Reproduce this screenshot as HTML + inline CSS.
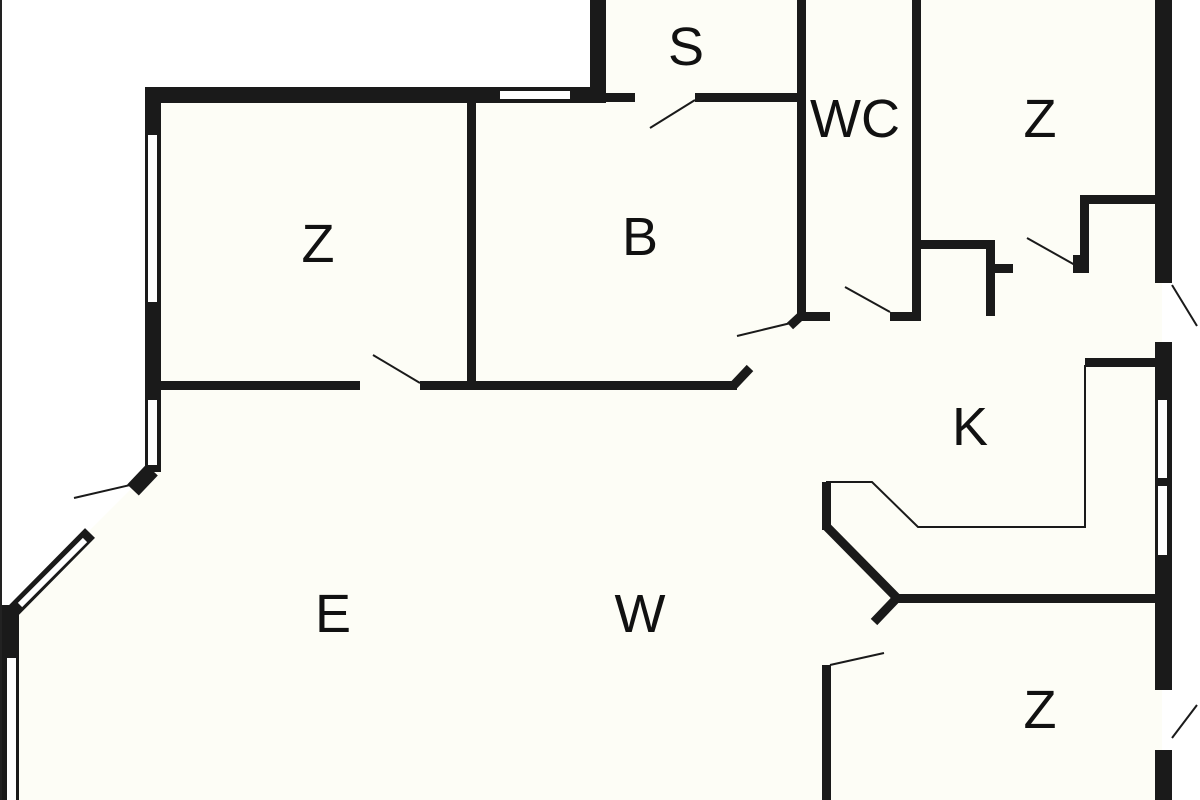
<!DOCTYPE html><html><head><style>body{margin:0;background:#fff}svg{display:block}text{font-family:"Liberation Sans",sans-serif;font-size:54px;fill:#111;text-anchor:middle}</style></head><body>
<svg width="1200" height="800" viewBox="0 0 1200 800">
<rect width="1200" height="800" fill="#fff"/>
<line x1="1" y1="0" x2="1" y2="800" stroke="#222" stroke-width="2"/>
<polygon points="152,95 598,95 598,0 1162,0 1162,800 10,800 10,610 140,480 152,470" fill="#fdfdf6"/>
<g fill="#1a1a1a">
<rect x="145" y="87" width="461" height="16"/>
<rect x="590" y="0" width="16" height="103"/>
<rect x="145" y="87" width="16" height="385"/>
<rect x="2" y="605" width="17" height="195"/>
<rect x="598" y="93" width="37" height="9"/>
<rect x="695" y="93" width="110" height="9"/>
<rect x="797" y="0" width="9" height="320"/>
<rect x="912" y="0" width="9" height="320"/>
<rect x="797" y="312" width="33" height="9"/>
<rect x="890" y="312" width="31" height="9"/>
<rect x="912" y="240" width="82" height="9"/>
<rect x="986" y="240" width="9" height="76"/>
<rect x="986" y="264" width="27" height="9"/>
<rect x="1073" y="255" width="15" height="18"/>
<rect x="1080" y="195" width="9" height="78"/>
<rect x="1080" y="195" width="80" height="9"/>
<rect x="1155" y="0" width="17" height="283"/>
<rect x="1155" y="342" width="17" height="348"/>
<rect x="1155" y="750" width="17" height="50"/>
<rect x="1085" y="358" width="77" height="9"/>
<rect x="160" y="381" width="200" height="9"/>
<rect x="420" y="381" width="317" height="9"/>
<rect x="467" y="103" width="9" height="282"/>
<rect x="895" y="594" width="265" height="9"/>
<rect x="822" y="482" width="9" height="48"/>
<rect x="822" y="665" width="9" height="135"/>
</g>
<g stroke="#1a1a1a" fill="none">
<line x1="733" y1="386" x2="750" y2="368" stroke-width="9"/>
<line x1="790" y1="326" x2="803" y2="314" stroke-width="9"/>
<line x1="152" y1="470" x2="133" y2="490" stroke-width="16"/>
<line x1="90" y1="533" x2="12" y2="612" stroke-width="14"/>
<line x1="826" y1="526" x2="897" y2="598" stroke-width="9"/>
<line x1="895" y1="600" x2="874" y2="622" stroke-width="9"/>
<polyline points="1085,365 1085,527 918,527 872,482 826,482" stroke-width="2"/>
<g stroke-width="2">
<line x1="373" y1="355" x2="420" y2="383"/>
<line x1="650" y1="128" x2="695" y2="100"/>
<line x1="737" y1="336" x2="795" y2="322"/>
<line x1="845" y1="287" x2="890" y2="312"/>
<line x1="1027" y1="238" x2="1075" y2="265"/>
<line x1="1172" y1="285" x2="1197" y2="326"/>
<line x1="74" y1="498" x2="130" y2="485"/>
<line x1="830" y1="665" x2="884" y2="653"/>
<line x1="1172" y1="738" x2="1197" y2="705"/>
</g>
</g>
<g fill="#fff">
<rect x="500" y="91" width="70" height="8"/>
<rect x="148" y="135" width="9" height="167"/>
<rect x="148" y="400" width="9" height="65"/>
<rect x="7" y="658" width="9" height="142"/>
<rect x="1158" y="400" width="9" height="78"/>
<rect x="1158" y="486" width="9" height="69"/>
<line x1="85" y1="540" x2="20" y2="605" stroke="#fff" stroke-width="6"/>
</g>
<text x="686" y="65">S</text>
<text x="855" y="137">WC</text>
<text x="1040" y="137">Z</text>
<text x="318" y="262">Z</text>
<text x="640" y="255">B</text>
<text x="970" y="445">K</text>
<text x="333" y="632">E</text>
<text x="640" y="632">W</text>
<text x="1040" y="728">Z</text>
</svg></body></html>
